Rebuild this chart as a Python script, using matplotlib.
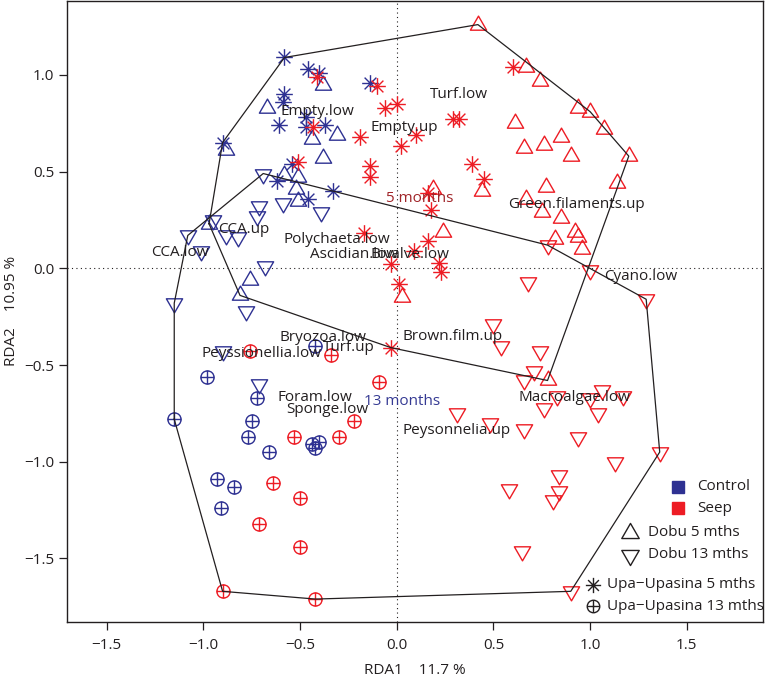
import numpy as np
import matplotlib
matplotlib.use("Agg")
import matplotlib.pyplot as plt
from matplotlib.path import Path

# colours of the two treatments
navy = "#2E3192"
red = "#ED1C24"
ink = "#231F20"

# site scores (RDA1, RDA2)
ctrl_upa5 = [(-0.58, 1.09), (-0.46, 1.03), (-0.40, 1.01), (-0.58, 0.90), (-0.59, 0.86),
             (-0.61, 0.74), (-0.47, 0.78), (-0.47, 0.73), (-0.37, 0.74), (-0.90, 0.65),
             (-0.54, 0.54), (-0.62, 0.45), (-0.46, 0.36), (-0.33, 0.40), (-0.14, 0.96)]
ctrl_dobu5 = [(-0.38, 0.95), (-0.67, 0.83), (-0.31, 0.69), (-0.44, 0.67), (-0.38, 0.57),
              (-0.88, 0.61), (-0.58, 0.48), (-0.51, 0.47), (-0.52, 0.41), (-0.51, 0.35),
              (-0.76, -0.06), (-0.81, -0.14), (-0.97, 0.23)]
ctrl_dobu13 = [(-0.69, 0.49), (-0.71, 0.32), (-0.72, 0.27), (-0.59, 0.34), (-0.39, 0.29),
               (-0.95, 0.25), (-0.88, 0.17), (-0.82, 0.16), (-1.08, 0.17), (-1.01, 0.09),
               (-0.68, 0.01), (-1.15, -0.18), (-0.78, -0.22), (-0.90, -0.43), (-0.71, -0.60)]
ctrl_upa13 = [(-0.42, -0.40), (-0.98, -0.56), (-0.72, -0.67), (-1.15, -0.78), (-0.75, -0.79),
              (-0.77, -0.87), (-0.66, -0.95), (-0.44, -0.91), (-0.40, -0.90), (-0.42, -0.93),
              (-0.93, -1.09), (-0.84, -1.13), (-0.91, -1.24)]

seep_upa5 = [(-0.41, 0.99), (-0.10, 0.94), (-0.06, 0.83), (0.00, 0.85), (-0.19, 0.68),
             (-0.43, 0.73), (0.02, 0.63), (0.10, 0.69), (0.29, 0.77), (0.32, 0.77),
             (-0.14, 0.53), (-0.14, 0.47), (-0.51, 0.55), (0.39, 0.54), (0.45, 0.46),
             (0.16, 0.39), (0.18, 0.30), (-0.17, 0.18), (0.16, 0.14), (0.09, 0.09),
             (0.22, 0.03), (0.23, -0.02), (-0.03, 0.02), (0.01, -0.08), (-0.03, -0.41),
             (0.60, 1.04)]
seep_dobu5 = [(0.42, 1.26), (0.67, 1.04), (0.74, 0.97), (0.94, 0.83), (1.00, 0.81),
              (1.07, 0.72), (1.20, 0.58), (0.61, 0.75), (0.66, 0.62), (0.76, 0.64),
              (0.85, 0.68), (0.90, 0.58), (1.14, 0.44), (0.77, 0.42), (0.67, 0.36),
              (0.75, 0.29), (0.85, 0.26), (0.92, 0.19), (0.94, 0.16), (0.96, 0.10),
              (0.82, 0.15), (0.44, 0.40), (0.19, 0.41), (0.24, 0.19), (0.03, -0.15),
              (0.78, -0.58)]
seep_dobu13 = [(0.78, 0.12), (1.00, -0.01), (0.68, -0.07), (1.29, -0.16), (0.50, -0.29),
               (0.54, -0.40), (0.74, -0.43), (0.71, -0.53), (0.66, -0.58), (0.83, -0.66),
               (0.76, -0.72), (1.06, -0.63), (1.00, -0.67), (1.17, -0.66), (1.04, -0.75),
               (0.31, -0.75), (0.48, -0.80), (0.66, -0.83), (0.94, -0.87), (1.13, -1.00),
               (1.36, -0.95), (0.84, -1.07), (0.58, -1.14), (0.84, -1.15), (0.81, -1.20),
               (0.65, -1.46), (0.90, -1.67)]
seep_upa13 = [(-0.76, -0.43), (-0.34, -0.45), (-0.09, -0.59), (-0.22, -0.79), (-0.53, -0.87),
              (-0.30, -0.87), (-0.64, -1.11), (-0.50, -1.19), (-0.71, -1.32), (-0.50, -1.44),
              (-0.90, -1.67), (-0.42, -1.71)]

# species scores (labels only)
species = ["Empty.low", "Empty.up", "Turf.low", "Green.filaments.up", "CCA.up", "CCA.low",
           "Polychaeta.low", "Ascidian.low", "Bivalve.low", "Cyano.low", "Bryozoa.low",
           "Turf.up", "Peyssionellia.low", "Brown.film.up", "Foram.low", "Sponge.low",
           "Macroalgae.low", "Peysonnelia.up"]
species_x = [-0.41, 0.04, 0.32, 0.93, -0.79, -1.12, -0.31, -0.22, 0.07, 1.26, -0.38,
             -0.25, -0.70, 0.29, -0.42, -0.36, 0.92, 0.31]
species_y = [0.81, 0.73, 0.90, 0.33, 0.20, 0.08, 0.15, 0.07, 0.07, -0.04, -0.36,
             -0.41, -0.44, -0.35, -0.67, -0.73, -0.67, -0.84]

# time centroid labels
time_labels = ["5 months", "13 months"]
time_x = [0.12, 0.03]
time_y = [0.36, -0.69]
time_cols = ["#A02428", "#353A93"]

# R style symbols
MO, LI, CL = Path.MOVETO, Path.LINETO, Path.CLOSEPOLY
tri_up = Path([(0, 1.555), (1.347, -0.778), (-1.347, -0.778), (0, 1.555)], [MO, LI, LI, CL])
tri_dn = Path([(0, -1.555), (1.347, 0.778), (-1.347, 0.778), (0, -1.555)], [MO, LI, LI, CL])
d = 0.7071
star = Path([(-1, 0), (1, 0), (0, -1), (0, 1), (-d, -d), (d, d), (-d, d), (d, -d)],
            [MO, LI, MO, LI, MO, LI, MO, LI])
circ_plus = Path.make_compound_path(Path.unit_circle(),
                                    Path([(-1, 0), (1, 0)], [MO, LI]),
                                    Path([(0, -1), (0, 1)], [MO, LI]))


def hull(pts):
    pts = sorted(set(pts))

    def cross(o, a, b):
        return (a[0] - o[0]) * (b[1] - o[1]) - (a[1] - o[1]) * (b[0] - o[0])
    lower, upper = [], []
    for p in pts:
        while len(lower) >= 2 and cross(lower[-2], lower[-1], p) <= 0:
            lower.pop()
        lower.append(p)
    for p in reversed(pts):
        while len(upper) >= 2 and cross(upper[-2], upper[-1], p) <= 0:
            upper.pop()
        upper.append(p)
    h = lower[:-1] + upper[:-1]
    return np.array(h + [h[0]])


plt.rcParams["font.family"] = ["Open Sans", "DejaVu Sans"]

fig = plt.figure(figsize=(7.68, 6.8), dpi=100)
ax = fig.add_axes([66.7 / 768, (680 - 621.7) / 680, (763 - 66.7) / 768, (621.7 - 1) / 680])
ax.set_xlim(-1.706, 1.894)
ax.set_ylim(-1.827, 1.382)

ax.axhline(0, ls=(0, (1, 3)), color=ink, lw=0.8, zorder=1)
ax.axvline(0, ls=(0, (1, 3)), color=ink, lw=0.8, zorder=1)

groups = [
    (ctrl_dobu5, tri_up, navy, 13.5), (ctrl_dobu13, tri_dn, navy, 13.5),
    (ctrl_upa5, star, navy, 12), (ctrl_upa13, circ_plus, navy, 9.5),
    (seep_dobu5, tri_up, red, 13.5), (seep_dobu13, tri_dn, red, 13.5),
    (seep_upa5, star, red, 12), (seep_upa13, circ_plus, red, 9.5),
]
for pts, mk, col, ms in groups:
    a = np.array(pts)
    ax.plot(a[:, 0], a[:, 1], ls="none", marker=mk, ms=ms, mfc="none", mec=col, mew=1.0, zorder=2)

# convex hulls per time
h5 = hull(ctrl_dobu5 + ctrl_upa5 + seep_dobu5 + seep_upa5)
h13 = hull(ctrl_dobu13 + ctrl_upa13 + seep_dobu13 + seep_upa13)
for h in (h5, h13):
    ax.plot(h[:, 0], h[:, 1], color=ink, lw=0.9, zorder=3)

for name, x, y in zip(species, species_x, species_y):
    ax.text(x, y, name, ha="center", va="center", fontsize=11, color=ink, zorder=4)
for name, x, y, c in zip(time_labels, time_x, time_y, time_cols):
    ax.text(x, y, name, ha="center", va="center", fontsize=11, color=c, zorder=4)

ax.set_xticks([-1.5, -1.0, -0.5, 0.0, 0.5, 1.0, 1.5])
ax.set_yticks([-1.5, -1.0, -0.5, 0.0, 0.5, 1.0])
ax.set_xticklabels(["\u22121.5", "\u22121.0", "\u22120.5", "0.0", "0.5", "1.0", "1.5"])
ax.set_yticklabels(["\u22121.5", "\u22121.0", "\u22120.5", "0.0", "0.5", "1.0"])
ax.tick_params(direction="out", length=6, width=0.9, color=ink, labelsize=11, labelcolor=ink)
ax.tick_params(axis="x", pad=6)
ax.tick_params(axis="y", pad=3)
for s in ax.spines.values():
    s.set_linewidth(1.0)
    s.set_color(ink)

ax.set_xlabel("RDA1    11.7 %", fontsize=11, color=ink, labelpad=7)
ax.set_ylabel("RDA2    10.95 %", fontsize=11, color=ink, labelpad=4)

# legends, drawn in axes fractions
def fx(px):
    return (px - 66.7) / 696.3


def fy(py):
    return (621.7 - py) / 620.7


leg_rows = [
    ("Control", "s", navy, navy, 9, 678, 697, 487),
    ("Seep", "s", red, red, 9, 678, 697, 508),
    ("Dobu 5 mths", tri_up, "none", ink, 14.5, 630, 648, 533),
    ("Dobu 13 mths", tri_dn, "none", ink, 14.5, 630, 648, 555),
    ("Upa\u2212Upasina 5 mths", star, "none", ink, 11, 593, 607, 585),
    ("Upa\u2212Upasina 13 mths", circ_plus, "none", ink, 9, 593, 607, 606),
]
for lab, mk, fc, ec, ms, mx, tx, ty in leg_rows:
    ax.plot([fx(mx)], [fy(ty)], transform=ax.transAxes, marker=mk, ms=ms, mfc=fc, mec=ec,
            mew=1.0, ls="none", clip_on=False)
    ax.text(fx(tx), fy(ty), lab, transform=ax.transAxes, ha="left", va="center",
            fontsize=11, color=ink)

fig.savefig("out.png", dpi=100)
